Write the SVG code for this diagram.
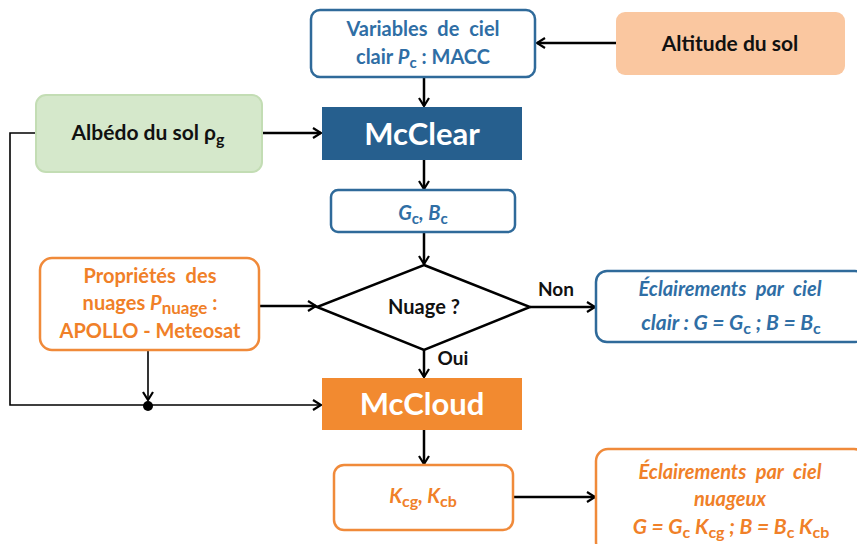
<svg xmlns="http://www.w3.org/2000/svg" width="857" height="544" viewBox="0 0 857 544">
<defs>
<marker id="arr" markerWidth="12" markerHeight="12" refX="10" refY="6" orient="auto" markerUnits="userSpaceOnUse">
<path d="M2,1 L10,6 L2,11" fill="none" stroke="#000" stroke-width="2.2"/>
</marker>
<style>
text{font-family:Lato,"Open Sans","Liberation Sans",sans-serif;font-weight:bold;text-anchor:middle}
.blue{fill:#2F6EA5}
.org{fill:#F08028}
.blk{fill:#111}
.wh{fill:#fff}
.it{font-style:italic}
.ws{word-spacing:5px}
.line{fill:none;stroke:#000;stroke-width:2.5}
.thin{fill:none;stroke:#000;stroke-width:1.6}
</style>
</defs>
<rect width="857" height="544" fill="#fff"/>

<g id="connectors">
<path class="line" d="M616,43 L537,43" marker-end="url(#arr)"/>
<path class="line" d="M424,77 L424,106" marker-end="url(#arr)"/>
<path class="line" d="M262,133 L321,133" marker-end="url(#arr)"/>
<path class="line" d="M424,160 L424,189" marker-end="url(#arr)"/>
<path class="line" d="M424,232 L424,264" marker-end="url(#arr)"/>
<path class="line" d="M259,306 L316,306" marker-end="url(#arr)"/>
<path class="line" d="M530,307 L595,307" marker-end="url(#arr)"/>
<path class="line" d="M424,350 L424,377" marker-end="url(#arr)"/>
<path class="line" d="M424,430 L424,464" marker-end="url(#arr)"/>
<path class="line" d="M513,497 L595,497" marker-end="url(#arr)"/>
<path class="thin" d="M36,133 L10,133 L10,405 L321,405" marker-end="url(#arr)"/>
<path class="thin" d="M148,350 L148,400" marker-end="url(#arr)"/>
<circle cx="148" cy="406" r="5" fill="#000"/>
<text class="blk" x="556" y="296" font-size="19">Non</text>
<text class="blk" x="453" y="365" font-size="19">Oui</text>
</g>

<g id="variables">
<rect x="311" y="10" width="224" height="67" rx="9" fill="#fff" stroke="#2F6A9A" stroke-width="2.5"/>
<text class="blue ws" x="423" y="36" font-size="20">Variables de ciel</text>
<text class="blue" x="423" y="64" font-size="20">clair <tspan class="it">P</tspan><tspan dy="4" font-size="15">c</tspan><tspan dy="-4"> : MACC</tspan></text>
</g>

<g id="altitude">
<rect x="616" y="12" width="229" height="63" rx="9" fill="#FAC7A0"/>
<text class="blk" x="730" y="51" font-size="21">Altitude du sol</text>
</g>

<g id="mcclear">
<rect x="322" y="107" width="200" height="53" fill="#265F8E"/>
<text class="wh" x="422" y="145" font-size="31">McClear</text>
</g>

<g id="albedo">
<rect x="36" y="95" width="226" height="77" rx="10" fill="#D5E8CB" stroke="#C3DDB4" stroke-width="2"/>
<text class="blk" x="148" y="140" font-size="21">Albédo du sol ρ<tspan dy="5" font-size="16">g</tspan></text>
</g>

<g id="gcbc">
<rect x="331" y="190" width="184" height="42" rx="7" fill="#fff" stroke="#2F6A9A" stroke-width="2.5"/>
<text class="blue it" x="423" y="220" font-size="20">G<tspan dy="4" font-size="15" font-style="normal">c</tspan><tspan dy="-4">, B</tspan><tspan dy="4" font-size="15" font-style="normal">c</tspan></text>
</g>

<g id="proprietes">
<rect x="40" y="258" width="219" height="92" rx="12" fill="#fff" stroke="#F08A3A" stroke-width="2.5"/>
<text class="org ws" x="150" y="283" font-size="20">Propriétés des</text>
<text class="org" x="150" y="310" font-size="20">nuages <tspan class="it">P</tspan><tspan dy="4" font-size="17">nuage</tspan><tspan dy="-4"> :</tspan></text>
<text class="org" x="150" y="338" font-size="20">APOLLO - Meteosat</text>
</g>

<g id="nuage">
<polygon points="424,265 530,307 424,350 317,307" fill="#fff" stroke="#000" stroke-width="2.5"/>
<text class="blk" x="424" y="314" font-size="20">Nuage ?</text>
</g>

<g id="clair">
<rect x="596" y="271" width="270" height="71" rx="11" fill="#fff" stroke="#2F6A9A" stroke-width="2.5"/>
<text class="blue it ws" x="730" y="296" font-size="20">Éclairements par ciel</text>
<text class="blue it" x="731" y="330" font-size="21">clair : G = G<tspan dy="4" font-size="16" font-style="normal">c</tspan><tspan dy="-4"> ; B = B</tspan><tspan dy="4" font-size="16" font-style="normal">c</tspan></text>
</g>

<g id="mccloud">
<rect x="322" y="378" width="200" height="52" fill="#F28A30"/>
<text class="wh" x="422" y="415" font-size="31">McCloud</text>
</g>

<g id="kcgkcb">
<rect x="334" y="465" width="179" height="65" rx="10" fill="#fff" stroke="#F08A3A" stroke-width="2.5"/>
<text class="org it" x="423" y="503" font-size="20">K<tspan dy="4" font-size="16" font-style="normal">cg</tspan><tspan dy="-4">, K</tspan><tspan dy="4" font-size="16" font-style="normal">cb</tspan></text>
</g>

<g id="nuageux">
<rect x="596" y="449" width="270" height="105" rx="12" fill="#fff" stroke="#F08A3A" stroke-width="2.5"/>
<text class="org it ws" x="730" y="479" font-size="20">Éclairements par ciel</text>
<text class="org it" x="730" y="506" font-size="20">nuageux</text>
<text class="org it" x="731" y="534" font-size="21">G = G<tspan dy="4" font-size="16" font-style="normal">c</tspan><tspan dy="-4"> K</tspan><tspan dy="4" font-size="16" font-style="normal">cg</tspan><tspan dy="-4"> ; B = B</tspan><tspan dy="4" font-size="16" font-style="normal">c</tspan><tspan dy="-4"> K</tspan><tspan dy="4" font-size="16" font-style="normal">cb</tspan></text>
</g>
</svg>
